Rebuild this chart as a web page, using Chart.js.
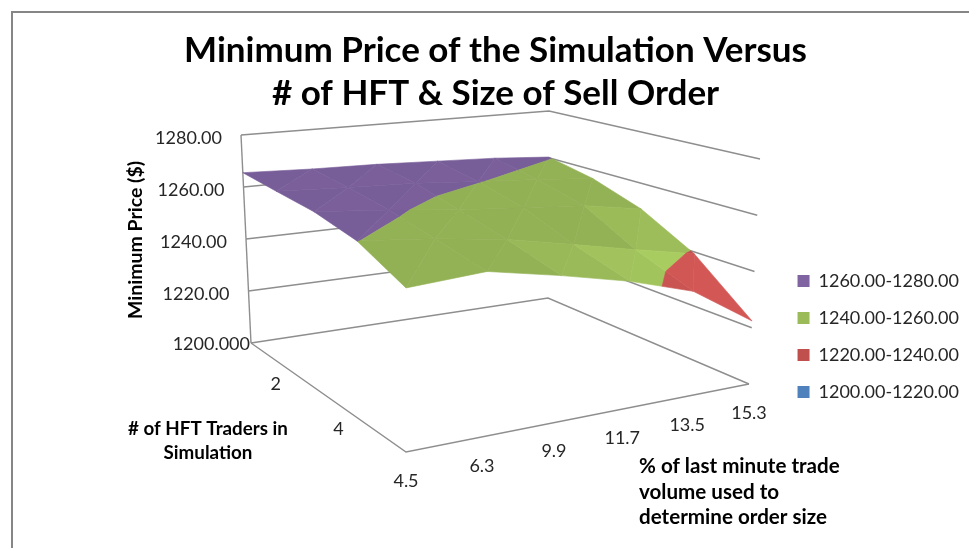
<!DOCTYPE html>
<html>
<head>
<meta charset="utf-8">
<title>Minimum Price of the Simulation</title>
<script src="https://cdn.jsdelivr.net/npm/chart.js@4"></script>
<style>
  html, body { margin: 0; padding: 0; background: #fff; }
  #frame { position: absolute; left: 11px; top: 11px; width: 969px; height: 548px; border: 2px solid #868686; box-sizing: border-box; }
  #wrap { position: absolute; left: 0; top: 0; width: 969px; height: 548px; overflow: hidden; }
  canvas { position: absolute; left: 0; top: 0; }
</style>
</head>
<body>
<div id="wrap">
  <div id="frame"></div>
  <canvas id="chart" width="969" height="548"></canvas>
</div>
<script>
// Categories along the two floor axes
const orderSizes = ["4.5", "6.3", "9.9", "11.7", "13.5", "15.3"];
const traders = ["", "2", "", "4", ""];
const priceTicks = [1280, 1260, 1240, 1220, 1200];
const priceTickLabels = ["1280.00", "1260.00", "1240.00", "1220.00", "1200.000"];

// Minimum price, one array per number of traders (back row to front row)
const traders1 = [1265.5, 1264.5, 1264, 1263, 1262, 1260.3];
const traders2 = [1264.3, 1263, 1262, 1260.2, 1258.5, 1256.5];
const traders3 = [1263.2, 1260.8, 1258, 1256, 1254, 1250];
const traders4 = [1260.1, 1257.5, 1254, 1249, 1244, 1239.3];
const traders5 = [1252.5, 1254, 1249, 1243.5, 1236.5, 1222.4];
const surface = [traders1, traders2, traders3, traders4, traders5];

// Legend bands
const bandLabels = ["1260.00-1280.00", "1240.00-1260.00", "1220.00-1240.00", "1200.00-1220.00"];
const bandLows = [1260, 1240, 1220, 1200];
const bandColors = [[128, 100, 162], [155, 187, 89], [192, 80, 77], [79, 129, 189]];

// The 3D box as seen on the page: floor and top corners (back-left, back-right, front-right, front-left)
const floorBox = [[251, 343], [548, 298], [749, 384], [406, 452]];
const topBox = [[241, 135], [549, 111], [760, 159], [406, 202]];
const zMin = 1200, zMax = 1280;

// Maps the unit square on a four sided shape
function homography(q) {
  const [x0, y0] = q[0], [x1, y1] = q[1], [x2, y2] = q[2], [x3, y3] = q[3];
  const dx1 = x1 - x2, dx2 = x3 - x2, sx = x0 - x1 + x2 - x3;
  const dy1 = y1 - y2, dy2 = y3 - y2, sy = y0 - y1 + y2 - y3;
  const den = dx1 * dy2 - dx2 * dy1;
  const g = (sx * dy2 - dx2 * sy) / den;
  const h = (dx1 * sy - sx * dy1) / den;
  const a = x1 - x0 + g * x1, b = x3 - x0 + h * x3;
  const d = y1 - y0 + g * y1, e = y3 - y0 + h * y3;
  return (u, v) => {
    const w = g * u + h * v + 1;
    return { x: (a * u + b * v + x0) / w, y: (d * u + e * v + y0) / w };
  };
}
const floorMap = homography(floorBox);
const topMap = homography(topBox);

// u runs along the order size axis, v along the traders axis
function project(u, v, z) {
  const p = floorMap(u, v), q = topMap(u, v);
  const t = (z - zMin) / (zMax - zMin);
  return { x: p.x + (q.x - p.x) * t, y: p.y + (q.y - p.y) * t };
}

const lastCol = orderSizes.length - 1;
const lastRow = traders.length - 1;

// Keep the part of a triangle on one side of a price level
function clipLevel(poly, level, keepAbove) {
  const out = [];
  for (let i = 0; i < poly.length; i++) {
    const a = poly[i], b = poly[(i + 1) % poly.length];
    const aIn = keepAbove ? a.z >= level : a.z <= level;
    const bIn = keepAbove ? b.z >= level : b.z <= level;
    if (aIn) out.push(a);
    if (aIn != bIn) {
      const t = (level - a.z) / (b.z - a.z);
      out.push({ u: a.u + (b.u - a.u) * t, v: a.v + (b.v - a.v) * t, z: level });
    }
  }
  return out;
}

// Lighter when the cell falls away to the right or to the front
function shade(rgb, slopeU, slopeV, tweak) {
  let f = 0.67 - 0.05 * slopeU - 0.012 * slopeV;
  f = Math.max(0.95, Math.min(1.1, f)) * tweak;
  return "rgb(" + rgb.map((c) => Math.min(255, Math.round(c * f))).join(",") + ")";
}

// One closed dataset per band piece of each triangle, back to front
const facets = [];
for (let r = 0; r < lastRow; r++) {
  for (let c = 0; c < lastCol; c++) {
    const pt = (cc, rr) => ({ u: cc / lastCol, v: rr / lastRow, z: surface[rr][cc] });
    const z00 = surface[r][c], z10 = surface[r][c + 1], z01 = surface[r + 1][c], z11 = surface[r + 1][c + 1];
    // Split each cell along its flatter diagonal
    const tris = Math.abs(z00 - z11) <= Math.abs(z10 - z01)
      ? [[pt(c, r), pt(c + 1, r), pt(c + 1, r + 1)], [pt(c, r), pt(c + 1, r + 1), pt(c, r + 1)]]
      : [[pt(c, r), pt(c + 1, r), pt(c, r + 1)], [pt(c + 1, r), pt(c + 1, r + 1), pt(c, r + 1)]];
    const slopeU = (z10 - z00 + z11 - z01) / 2;
    const slopeV = (z01 - z00 + z11 - z10) / 2;
    tris.forEach((tri, t) => {
      bandLows.forEach((low, b) => {
        let poly = clipLevel(tri, low, true);
        if (poly.length) poly = clipLevel(poly, low + 20, false);
        if (poly.length < 3) return;
        const pts = poly.map((p) => project(p.u, p.v, p.z));
        pts.push(pts[0]);
        const color = shade(bandColors[b], slopeU, slopeV, t == 0 ? 0.99 : 1);
        facets.push({
          data: pts,
          showLine: true,
          fill: "shape",
          backgroundColor: color,
          borderColor: color,
          borderWidth: 0.6,
          pointRadius: 0,
          tension: 0,
          clip: false,
        });
      });
    });
  }
}

// Walls and floor lines
function frameLine(points) {
  return {
    data: points,
    showLine: true,
    fill: false,
    borderColor: "#8e8e8e",
    borderWidth: 1.4,
    pointRadius: 0,
    tension: 0,
    clip: false,
  };
}
const frameLines = [];
priceTicks.forEach((z) => {
  frameLines.push(frameLine([project(0, 0, z), project(1, 0, z), project(1, 1, z)]));
});
frameLines.push(frameLine([project(0, 0, zMin), project(0, 0, zMax)]));
frameLines.push(frameLine([project(0, 0, zMin), project(0, 1, zMin), project(1, 1, zMin)]));

// Legend entries only, no marks of their own
const legendSets = bandLabels.map((label, i) => ({
  label: label,
  data: [],
  backgroundColor: "rgb(" + bandColors[i].join(",") + ")",
  borderColor: "rgb(" + bandColors[i].join(",") + ")",
  borderWidth: 0,
}));

// Chart.js paints the first dataset last
const datasets = legendSets.concat(facets.slice().reverse(), frameLines);

const textFont = "Lato, sans-serif";

// Tick labels and axis titles sit on the 3D box, so they are placed by hand
const boxText = {
  id: "boxText",
  afterDraw(chart) {
    const ctx = chart.ctx;
    const px = (p) => chart.scales.x.getPixelForValue(p.x);
    const py = (p) => chart.scales.y.getPixelForValue(p.y);
    ctx.save();
    ctx.fillStyle = "#262626";
    ctx.textBaseline = "middle";
    ctx.font = "18px " + textFont;

    ctx.textAlign = "right";
    priceTicks.forEach((z, i) => {
      const p = project(0, 0, z);
      const gap = z == zMin ? 1 : 19;
      ctx.fillText(priceTickLabels[i], px(p) - gap, py(p) + (z == zMin ? 1 : 3));
    });

    ctx.textAlign = "center";
    orderSizes.forEach((label, i) => {
      const p = project(i / lastCol, 1, zMin);
      ctx.fillText(label, px(p), py(p) + 29);
    });
    traders.forEach((label, i) => {
      const p = project(0, i / lastRow, zMin);
      if (i == 1) ctx.fillText(label, px(p) - 8, py(p) + 18);
      if (i == 3) ctx.fillText(label, px(p) - 22, py(p) + 9);
    });

    ctx.fillStyle = "#000";
    ctx.font = "bold 18.8px " + textFont;
    ctx.fillText("# of HFT Traders in", 208, 429);
    ctx.fillText("Simulation", 208, 453);

    ctx.textAlign = "left";
    ctx.font = "bold 20.6px " + textFont;
    ctx.fillText("% of last minute trade", 639, 466);
    ctx.fillText("volume used to", 639, 492);
    ctx.fillText("determine order size", 639, 517);

    ctx.translate(136, 240);
    ctx.rotate(-Math.PI / 2);
    ctx.textAlign = "center";
    ctx.font = "bold 19.5px " + textFont;
    ctx.fillText("Minimum Price ($)", 0, 0);
    ctx.restore();
  },
};

const config = {
  type: "scatter",
  data: { datasets: datasets },
  options: {
    responsive: false,
    animation: false,
    layout: { padding: { left: 22, top: 0, right: 0, bottom: 128 } },
    scales: {
      x: { type: "linear", display: false },
      y: { type: "linear", display: false, reverse: true },
    },
    plugins: {
      title: {
        display: true,
        text: ["Minimum Price of the Simulation Versus", "# of HFT & Size of Sell Order"],
        color: "#000",
        font: { family: textFont, size: 35, weight: "bold", lineHeight: 1.23 },
        padding: { top: 29, bottom: 0 },
      },
      legend: {
        position: "right",
        align: "end",
        labels: {
          color: "#262626",
          font: { family: textFont, size: 18 },
          boxWidth: 12,
          boxHeight: 12,
          padding: 19,
          filter: (item) => item.text !== undefined,
        },
      },
      tooltip: { enabled: false },
    },
  },
  plugins: [boxText],
};

const chart = new Chart(document.getElementById("chart"), config);

// Make one data unit equal one page pixel on both hidden scales
chart.options.scales.x.min = chart.chartArea.left;
chart.options.scales.x.max = chart.chartArea.right;
chart.options.scales.y.min = chart.chartArea.top;
chart.options.scales.y.max = chart.chartArea.bottom;
chart.update();
</script>
</body>
</html>
